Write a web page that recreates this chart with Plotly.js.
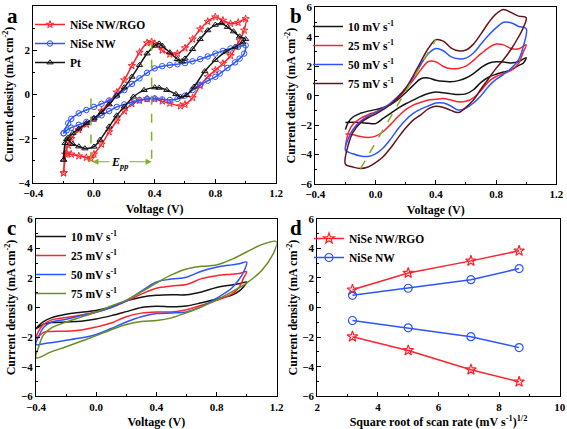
<!DOCTYPE html>
<html><head><meta charset="utf-8">
<script src="https://cdn.plot.ly/plotly-3.0.1.min.js"></script>
<style>html,body{margin:0;padding:0;background:#fff}#chart{width:567px;height:429px}</style>
</head><body><div id="chart"></div>
<script>
// ---------- Panel a: CVs of NiSe NW/RGO, NiSe NW, Pt (anodic sweep then cathodic sweep)
const aRgoV = [-0.2,-0.19,-0.17,-0.15,-0.1,-0.05,0,0.05,0.1,0.15,0.2,0.25,0.3,0.35,0.38,0.4,0.45,0.5,0.55,0.6,0.65,0.7,0.75,0.8,0.85,0.9,0.95,1.0,
               0.99,0.96,0.9,0.85,0.8,0.75,0.7,0.65,0.6,0.57,0.5,0.45,0.4,0.35,0.3,0.25,0.2,0.15,0.1,0.05,0,-0.02,-0.05,-0.1,-0.15,-0.18,-0.2];
const aRgoI = [-3.55,-2.7,-2.3,-2.0,-1.6,-1.35,-1.1,-0.75,-0.35,0.1,0.65,1.3,1.9,2.33,2.38,2.3,2.0,1.82,1.85,2.1,2.5,2.95,3.3,3.5,3.35,3.2,3.25,3.42,
               2.9,2.45,1.75,1.4,1.1,0.8,0.4,-0.15,-0.45,-0.52,-0.4,-0.3,-0.2,-0.2,-0.28,-0.42,-0.75,-1.2,-1.69,-2.25,-2.7,-2.9,-2.85,-2.78,-2.7,-2.65,-3.55];
const aNwV = [-0.2,-0.17,-0.15,-0.1,-0.05,0,0.05,0.1,0.15,0.2,0.25,0.3,0.35,0.4,0.45,0.5,0.55,0.6,0.65,0.7,0.75,0.8,0.85,0.9,0.95,1.0,
              0.99,0.96,0.93,0.88,0.83,0.8,0.75,0.7,0.65,0.6,0.55,0.5,0.45,0.4,0.35,0.3,0.25,0.2,0.15,0.1,0.05,0,-0.05,-0.1,-0.15,-0.18,-0.2];
const aNwI = [-1.75,-1.3,-1.1,-0.85,-0.7,-0.56,-0.42,-0.27,-0.05,0.2,0.48,0.73,0.98,1.18,1.28,1.33,1.37,1.42,1.5,1.6,1.72,1.85,1.97,2.08,2.15,2.22,
              1.85,1.62,1.45,1.2,0.95,0.8,0.62,0.43,0.2,-0.05,-0.2,-0.25,-0.22,-0.18,-0.2,-0.25,-0.35,-0.45,-0.56,-0.75,-0.94,-1.1,-1.24,-1.37,-1.5,-1.62,-1.75];
const aPtV = [-0.2,-0.19,-0.17,-0.14,-0.1,-0.05,0,0.05,0.1,0.15,0.2,0.25,0.3,0.35,0.4,0.43,0.45,0.5,0.55,0.58,0.6,0.65,0.7,0.75,0.8,0.84,0.88,0.92,0.96,1.0,
              0.98,0.93,0.87,0.8,0.73,0.66,0.61,0.57,0.54,0.48,0.43,0.4,0.33,0.26,0.2,0.15,0.1,0.04,0,-0.06,-0.1,-0.14,-0.18,-0.2];
const aPtI = [-2.95,-2.2,-1.95,-1.75,-1.55,-1.3,-1.08,-0.8,-0.45,-0.05,0.32,0.8,1.33,1.85,2.2,2.3,2.2,1.9,1.6,1.5,1.62,2.05,2.5,2.9,3.15,3.22,3.05,2.85,2.62,2.5,
              2.35,2.15,1.94,1.56,1.05,0.35,-0.03,-0.1,0.02,0.2,0.3,0.32,0.2,-0.1,-0.55,-0.95,-1.45,-2.05,-2.36,-2.44,-2.35,-2.24,-2.02,-2.95];
const eppGuide = {leftTop: -0.18, bottom: -3.27, arrowY: -3.04, labelX: 0.17, labelY: -3.1};

// ---------- Panel b: NiSe NW/RGO at different scan rates
const bUpV = [-0.2,-0.18,-0.15,-0.1,-0.05,0,0.05,0.1,0.15,0.2,0.25,0.3,0.35,0.4,0.45,0.5,0.55,0.6,0.65,0.7,0.75,0.8,0.85,0.9,0.95,1.0];
const bDnV = [0.98,0.95,0.9,0.85,0.8,0.75,0.7,0.65,0.6,0.55,0.5,0.45,0.4,0.35,0.3,0.25,0.2,0.15,0.1,0.05,0,-0.05,-0.1,-0.15,-0.2];
const b10Up = [-2.3,-1.8,-1.45,-1.2,-1.05,-0.95,-0.8,-0.6,-0.25,0.2,0.7,1.15,1.2,1.05,0.97,0.95,1.02,1.2,1.5,1.9,2.2,2.3,2.28,2.22,2.3,2.58];
const b10Dn = [2.2,2.05,1.75,1.6,1.45,1.25,0.9,0.4,0.12,0.07,0.12,0.2,0.25,0.15,-0.05,-0.3,-0.55,-0.85,-1.2,-1.55,-1.9,-1.88,-1.82,-1.8,-1.82];
const b25Up = [-3.45,-2.5,-1.95,-1.55,-1.3,-1.1,-0.85,-0.55,-0.15,0.4,1.05,1.75,2.32,2.3,1.98,1.83,1.85,2.0,2.4,2.85,3.25,3.5,3.45,3.2,3.18,3.45];
const b25Dn = [2.95,2.2,1.72,1.5,1.3,0.95,0.35,-0.15,-0.38,-0.42,-0.3,-0.2,-0.25,-0.3,-0.45,-0.64,-0.95,-1.42,-1.95,-2.45,-2.75,-2.85,-2.78,-2.65,-2.6];
const b50Up = [-3.7,-2.9,-2.3,-1.75,-1.4,-1.15,-0.85,-0.5,-0.05,0.5,1.25,2.1,2.85,3.2,3.05,2.65,2.5,2.55,2.9,3.5,4.1,4.6,4.98,4.95,4.7,4.55];
const b50Dn = [3.3,2.45,1.85,1.45,1.1,0.62,0.0,-0.5,-0.85,-0.98,-0.7,-0.5,-0.5,-0.7,-0.92,-1.2,-1.65,-2.25,-2.95,-3.55,-3.95,-4.13,-4.1,-3.95,-3.7];
const b75Up = [-4.65,-3.3,-2.5,-1.85,-1.5,-1.25,-0.95,-0.6,-0.1,0.5,1.35,2.3,3.2,3.8,3.7,3.25,3.05,3.1,3.5,4.2,4.95,5.55,5.85,5.65,5.4,5.3];
const b75Dn = [4.6,4.0,3.15,2.45,1.85,1.15,0.45,-0.3,-0.8,-1.15,-1.0,-0.8,-0.72,-0.9,-1.3,-1.66,-2.2,-2.85,-3.55,-4.15,-4.55,-4.85,-4.95,-4.85,-4.65];

// ---------- Panel c: NiSe NW at different scan rates
const cUpV = [-0.4,-0.38,-0.35,-0.3,-0.2,-0.1,0,0.1,0.2,0.3,0.4,0.5,0.6,0.7,0.8,0.9,0.95,1.0];
const cDnV = [0.98,0.95,0.9,0.8,0.7,0.6,0.5,0.4,0.3,0.2,0.1,0,-0.1,-0.2,-0.3,-0.35,-0.4];
const c10Up = [-1.45,-1.2,-0.95,-0.7,-0.45,-0.32,-0.2,0.05,0.45,0.7,0.82,0.86,0.86,1.05,1.35,1.52,1.6,1.72];
const c10Dn = [1.4,1.1,0.82,0.58,0.32,0.1,0.05,0.08,0.0,-0.28,-0.55,-0.78,-0.93,-0.98,-1.02,-1.12,-1.45];
const c25Up = [-2.1,-1.55,-1.15,-0.85,-0.68,-0.5,-0.3,0.0,0.42,0.9,1.3,1.45,1.55,1.95,2.15,2.25,2.3,2.42];
const c25Dn = [2.0,1.35,0.9,0.48,0.15,-0.15,-0.3,-0.3,-0.38,-0.62,-1.05,-1.32,-1.52,-1.6,-1.62,-1.68,-2.1];
const c50Up = [-2.5,-1.9,-1.35,-1.0,-0.8,-0.55,-0.32,0.0,0.45,1.1,1.72,1.92,2.05,2.45,2.72,2.88,2.95,3.07];
const c50Dn = [2.4,1.9,1.3,0.62,0.05,-0.3,-0.37,-0.41,-0.62,-0.98,-1.42,-1.82,-2.05,-2.22,-2.38,-2.45,-2.5];
const c75UpV = [-0.4,-0.38,-0.35,-0.3,-0.2,-0.1,0,0.1,0.2,0.3,0.4,0.5,0.6,0.7,0.8,0.9,1.0,1.1,1.2];
const c75Up = [-3.4,-2.6,-1.85,-1.4,-0.98,-0.65,-0.3,0.1,0.5,1.05,1.65,2.2,2.6,2.78,2.87,3.25,3.75,4.25,4.45];
const c75DnV = [1.18,1.1,1.0,0.9,0.8,0.7,0.6,0.5,0.4,0.3,0.2,0.1,0,-0.1,-0.2,-0.3,-0.4];
const c75Dn = [3.7,2.5,1.65,1.05,0.5,0.05,-0.35,-0.7,-0.88,-0.95,-1.15,-1.5,-1.9,-2.28,-2.65,-3.0,-3.4];

// ---------- Panel d: peak currents vs square root of scan rate
const dSqrtRate = [3.16, 5.0, 7.07, 8.66];
const dRgoAnodic = [1.2, 2.33, 3.15, 3.83];
const dRgoCathodic = [-1.97, -2.9, -4.2, -5.02];
const dNwAnodic = [0.82, 1.3, 1.88, 2.63];
const dNwCathodic = [-0.88, -1.37, -1.97, -2.71];

const rateNames = ['10 mV s<sup>-1</sup>','25 mV s<sup>-1</sup>','50 mV s<sup>-1</sup>','75 mV s<sup>-1</sup>'];

const RED = 'rgb(255,35,45)', BLUE = 'rgb(45,85,255)', BLK = 'rgb(20,20,20)', BROWN = 'rgb(100,20,25)', OLIVE = 'rgb(105,140,35)', GDASH = 'rgb(130,175,40)';
const SERIF = 'Liberation Serif, Times New Roman, serif';

const loop = (uv, ui, dv, di) => ({x: uv.concat(dv), y: ui.concat(di)});
const traces = [];

// panel a
const aMk = {size: 5.5, line: {width: 1}};
traces.push({x: aRgoV, y: aRgoI, xaxis:'x', yaxis:'y', name:'NiSe NW/RGO', mode:'lines+markers', legend:'legend',
  line:{color:RED, width:1.5, shape:'spline', smoothing:0.8}, marker:Object.assign({symbol:'star-open', color:RED}, aMk)});
traces.push({x: aNwV, y: aNwI, xaxis:'x', yaxis:'y', name:'NiSe NW', mode:'lines+markers', legend:'legend',
  line:{color:BLUE, width:1.5, shape:'spline', smoothing:0.8}, marker:Object.assign({symbol:'circle-open', color:BLUE}, aMk)});
traces.push({x: aPtV, y: aPtI, xaxis:'x', yaxis:'y', name:'Pt', mode:'lines+markers', legend:'legend',
  line:{color:BLK, width:1.5, shape:'spline', smoothing:0.8}, marker:Object.assign({symbol:'triangle-up-open', color:BLK}, aMk)});

// E_pp guide lines derived from the NiSe NW/RGO data
const nUp = aRgoV.indexOf(1.0);
let pk = 0; for (let i = 0; i <= nUp; i++) if (aRgoV[i] < 0.5 && aRgoI[i] > aRgoI[pk]) pk = i;
let mn = nUp + 1; for (let i = nUp + 1; i < aRgoV.length - 1; i++) if (aRgoV[i] < 0.3 && aRgoI[i] < aRgoI[mn]) mn = i;
const eLeft = aRgoV[mn], eRight = aRgoV[pk];
const gd = {color:GDASH, width:1.5, dash:'dash'};
traces.push({x:[eLeft,eLeft], y:[eppGuide.leftTop, eppGuide.bottom], xaxis:'x', yaxis:'y', mode:'lines', line:gd, showlegend:false, hoverinfo:'skip'});
traces.push({x:[eRight,eRight], y:[aRgoI[pk], eppGuide.bottom], xaxis:'x', yaxis:'y', mode:'lines', line:gd, showlegend:false, hoverinfo:'skip'});

// panel b
const bCols = [BLK, RED, BLUE, BROWN];
[[b10Up,b10Dn],[b25Up,b25Dn],[b50Up,b50Dn],[b75Up,b75Dn]].forEach((p, k) => {
  const L = loop(bUpV, p[0], bDnV, p[1]);
  traces.push({x:L.x, y:L.y, xaxis:'x2', yaxis:'y2', name:rateNames[k], mode:'lines', legend:'legend2',
    line:{color:bCols[k], width:1.5, shape:'spline', smoothing:1}});
});
let bpk = 0; for (let i = 0; i < bUpV.length; i++) if (bUpV[i] < 0.6 && b75Up[i] > b75Up[bpk]) bpk = i;
let bmn = 0; for (let i = 0; i < bDnV.length; i++) if (b75Dn[i] < b75Dn[bmn]) bmn = i;
traces.push({x:[bDnV[bmn], bUpV[bpk]], y:[b75Dn[bmn], b75Up[bpk]], xaxis:'x2', yaxis:'y2', mode:'lines', line:gd, showlegend:false, hoverinfo:'skip'});

// panel c
const cCols = [BLK, RED, BLUE, OLIVE];
[[cUpV,c10Up,cDnV,c10Dn],[cUpV,c25Up,cDnV,c25Dn],[cUpV,c50Up,cDnV,c50Dn],[c75UpV,c75Up,c75DnV,c75Dn]].forEach((p, k) => {
  const L = loop(p[0], p[1], p[2], p[3]);
  traces.push({x:L.x, y:L.y, xaxis:'x3', yaxis:'y3', name:rateNames[k], mode:'lines', legend:'legend3',
    line:{color:cCols[k], width:1.5, shape:'spline', smoothing:1}});
});

// panel d
const dMk = {size: 8, line:{width:1.2}};
traces.push({x:dSqrtRate, y:dRgoAnodic, xaxis:'x4', yaxis:'y4', name:'NiSe NW/RGO', legendgroup:'r', legend:'legend4', mode:'lines+markers',
  line:{color:RED, width:1.5}, marker:Object.assign({symbol:'star-open', color:RED}, dMk)});
traces.push({x:dSqrtRate, y:dNwAnodic, xaxis:'x4', yaxis:'y4', name:'NiSe NW', legendgroup:'b', legend:'legend4', mode:'lines+markers',
  line:{color:BLUE, width:1.5}, marker:Object.assign({symbol:'circle-open', color:BLUE}, dMk)});
traces.push({x:dSqrtRate, y:dNwCathodic, xaxis:'x4', yaxis:'y4', name:'NiSe NW', legendgroup:'b', showlegend:false, mode:'lines+markers',
  line:{color:BLUE, width:1.5}, marker:Object.assign({symbol:'circle-open', color:BLUE}, dMk)});
traces.push({x:dSqrtRate, y:dRgoCathodic, xaxis:'x4', yaxis:'y4', name:'NiSe NW/RGO', legendgroup:'r', showlegend:false, mode:'lines+markers',
  line:{color:RED, width:1.5}, marker:Object.assign({symbol:'star-open', color:RED}, dMk)});

const tickFont = {family:SERIF, size:11, color:'#000', weight:'bold'};
const titleFont = {family:SERIF, size:12, color:'#000', weight:'bold'};
function ax(domain, anchor, range, dtick, minor, title, standoff, tfmt) {
  return {domain, anchor, range, dtick, tick0: range[0], tickformat: tfmt, autorange:false,
    showline:true, linecolor:'#000', linewidth:1, mirror:true, ticks:'inside', ticklen:4, tickcolor:'#000',
    minor:{ticks:'inside', ticklen:2, dtick:minor, tick0: range[0], tickcolor:'#000'},
    showgrid:false, zeroline:false, tickfont:tickFont,
    title:{text:title, font:titleFont, standoff:standoff}};
}
const W = 567, H = 429;
const xd = (a,b) => [a/W, b/W];
const yd = (top,bot) => [1-bot/H, 1-top/H];
const YT = 'Current density (mA cm<sup>-2</sup>)';
const legBase = {bgcolor:'rgba(0,0,0,0)', borderwidth:0, font:{family:SERIF, size:11.5, color:'#000', weight:'bold'},
  xanchor:'left', yanchor:'top', itemwidth:30, tracegroupgap:0};

const layout = {
  width:W, height:H, margin:{l:0, r:0, t:0, b:0}, paper_bgcolor:'#fff', plot_bgcolor:'#fff', showlegend:true,
  xaxis: ax(xd(33.3,276), 'y', [-0.4,1.2], 0.4, 0.2, 'Voltage (V)', 6, '.1f'),
  yaxis: ax(yd(6,183), 'x', [-4,4], 2, 1, YT, 2, 'd'),
  xaxis2: ax(xd(315.3,556.3), 'y2', [-0.4,1.2], 0.4, 0.2, 'Voltage (V)', 6, '.1f'),
  yaxis2: ax(yd(7.3,184), 'x2', [-6,6], 2, 1, YT, 2, 'd'),
  xaxis3: ax(xd(36,276.7), 'y3', [-0.4,1.2], 0.4, 0.2, 'Voltage (V)', 6, '.1f'),
  yaxis3: ax(yd(218.7,396.3), 'x3', [-6,6], 2, 1, YT, 2, 'd'),
  xaxis4: ax(xd(317.3,559.7), 'y4', [2,10], 2, 1, 'Square root of scan rate (mV s<sup>-1</sup>)<sup>1/2</sup>', 6, 'd'),
  yaxis4: ax(yd(218.7,396.3), 'x4', [-6,6], 2, 1, YT, 2, 'd'),
  legend: Object.assign({}, legBase, {x:30/W, y:1-10/H}),
  legend2: Object.assign({}, legBase, {x:308/W, y:1-12/H}),
  legend3: Object.assign({}, legBase, {x:31/W, y:1-222/H}),
  legend4: Object.assign({}, legBase, {x:309/W, y:1-224/H}),
  annotations: [
    {xref:'x', yref:'y', axref:'x', ayref:'y', x:eRight, y:eppGuide.arrowY, ax:eLeft, ay:eppGuide.arrowY, text:'',
     showarrow:true, arrowside:'end+start', arrowhead:2, arrowsize:1, arrowwidth:1.2, arrowcolor:GDASH},
    {xref:'x', yref:'y', x:eppGuide.labelX, y:eppGuide.labelY, text:'<i>E</i><sub><i>pp</i></sub>', showarrow:false,
     bgcolor:'#fff', font:{family:SERIF, size:12, color:'#000', weight:'bold'}},
    {xref:'paper', yref:'paper', x:5/W, y:1-2/H, xanchor:'left', yanchor:'top', text:'a', showarrow:false, font:{family:SERIF, size:21, color:'#000', weight:'bold'}},
    {xref:'paper', yref:'paper', x:288/W, y:1-2/H, xanchor:'left', yanchor:'top', text:'b', showarrow:false, font:{family:SERIF, size:21, color:'#000', weight:'bold'}},
    {xref:'paper', yref:'paper', x:5/W, y:1-214/H, xanchor:'left', yanchor:'top', text:'c', showarrow:false, font:{family:SERIF, size:21, color:'#000', weight:'bold'}},
    {xref:'paper', yref:'paper', x:288/W, y:1-214/H, xanchor:'left', yanchor:'top', text:'d', showarrow:false, font:{family:SERIF, size:21, color:'#000', weight:'bold'}}
  ]
};
Plotly.newPlot('chart', traces, layout, {staticPlot:true, displayModeBar:false});
</script></body></html>
